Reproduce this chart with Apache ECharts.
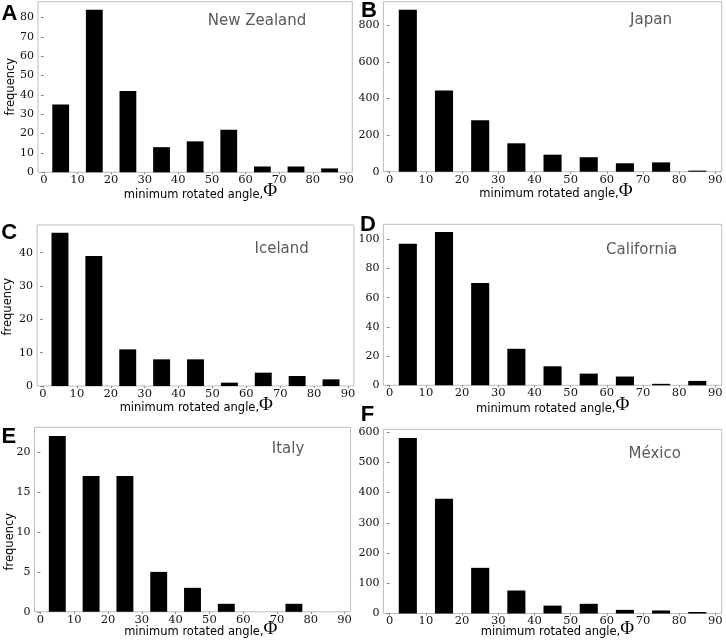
<!DOCTYPE html>
<html>
<head>
<meta charset="utf-8">
<script src="https://cdn.jsdelivr.net/npm/echarts@6/dist/echarts.min.js"></script>
<style>
html,body{margin:0;padding:0;background:#fff;}
#chart{width:726px;height:640px;}
</style>
</head>
<body>
<div id="chart"></div>
<script>
// ---- data ----
const binCenters = [5, 15, 25, 35, 45, 55, 65, 75, 85];
const xTicks = [0, 10, 20, 30, 40, 50, 60, 70, 80, 90];

const regions = ["New Zealand", "Japan", "Iceland", "California", "Italy", "México"];
const panelLetters = ["A", "B", "C", "D", "E", "F"];

const newZealand = [35, 84, 42, 13, 16, 22, 3, 3, 2];
const japan      = [884, 443, 281, 155, 93, 79, 46, 51, 6];
const iceland    = [46, 39, 11, 8, 8, 1, 4, 3, 2];
const california = [97, 105, 70, 25, 13, 8, 6, 1, 3];
const italy      = [22, 17, 17, 5, 3, 1, 0, 1, 0];
const mexico     = [580, 379, 151, 76, 26, 32, 12, 10, 5];

const yTicksA = [0, 10, 20, 30, 40, 50, 60, 70, 80];
const yTicksB = [0, 200, 400, 600, 800];
const yTicksC = [0, 10, 20, 30, 40];
const yTicksD = [0, 20, 40, 60, 80, 100];
const yTicksE = [0, 5, 10, 15, 20];
const yTicksF = [0, 100, 200, 300, 400, 500, 600];

const xLabel = "minimum rotated angle,";
const yLabel = "frequency";

// ---- layout (pixels) ----
const panels = [
  {vals: newZealand, ticks: yTicksA, grid: [38, 1.7, 314.3, 170.6], title: [257, 21], letter: [9.5, 13.7], xname: [200.5, 191.5], yname: [11, 86.7]},
  {vals: japan,      ticks: yTicksB, grid: [383.4, 1.7, 338.3, 170], title: [651, 20], letter: [369, 10.5], xname: [556, 191], yname: null},
  {vals: iceland,    ticks: yTicksC, grid: [37.1, 225, 316.8, 161], title: [281.7, 249.3], letter: [9.2, 233], xname: [196.3, 405], yname: [8.3, 306.7]},
  {vals: california, ticks: yTicksD, grid: [383.4, 224.3, 338.3, 161], title: [641.7, 250], letter: [368, 225], xname: [552.7, 405.5], yname: null},
  {vals: italy,      ticks: yTicksE, grid: [34.5, 427.3, 316, 184.5], title: [288, 449], letter: [8.8, 436.7], xname: [200.8, 629], yname: [10.5, 541.7]},
  {vals: mexico,     ticks: yTicksF, grid: [383.4, 429.3, 338.3, 184.2], title: [654.7, 454], letter: [367.5, 415], xname: [557.5, 629], yname: null}
];

const halfBar = 2.5;
const frameColor = "#bdbdbd";

const grids = [], xAxes = [], yAxes = [], series = [], graphics = [];

panels.forEach((p, i) => {
  grids.push({
    left: p.grid[0], top: p.grid[1], width: p.grid[2], height: p.grid[3],
    show: true, borderColor: frameColor, borderWidth: 1, backgroundColor: "#fff",
    containLabel: false, outerBoundsMode: "none"
  });
  xAxes.push({
    type: "value", gridIndex: i, min: -1.75, max: 91.75,
    axisLine: {show: false},
    splitLine: {show: false},
    axisTick: {show: true, length: 2, lineStyle: {color: "#888"}, customValues: xTicks},
    axisLabel: {margin: 2, customValues: xTicks, fontFamily: "DejaVu Serif", fontSize: 11.5, color: "#111"}
  });
  const ymax = Math.max(...p.vals) * 1.05;
  yAxes.push({
    type: "value", gridIndex: i, min: 0, max: ymax,
    axisLine: {show: false},
    splitLine: {show: false},
    axisTick: {show: true, length: 3, lineStyle: {color: "#888"}, customValues: p.ticks},
    axisLabel: {margin: 4, customValues: p.ticks, fontFamily: "DejaVu Serif", fontSize: 11, color: "#111"}
  });
  series.push({
    type: "custom", xAxisIndex: i, yAxisIndex: i,
    data: binCenters.map((c, k) => [c, p.vals[k]]),
    renderItem: function (params, api) {
      const x = api.value(0), y = api.value(1);
      const p0 = api.coord([x - halfBar, y]);
      const p1 = api.coord([x + halfBar, 0]);
      return {
        type: "rect",
        shape: {x: p0[0], y: p0[1], width: p1[0] - p0[0], height: p1[1] - p0[1]},
        style: {fill: "#000"}
      };
    },
    silent: true
  });
  graphics.push({
    type: "text", x: p.title[0], y: p.title[1],
    style: {text: regions[i], fill: "#5a5a5a", font: "15px 'DejaVu Sans'", textAlign: "center", textVerticalAlign: "middle"}
  });
  graphics.push({
    type: "text", x: p.letter[0], y: p.letter[1],
    style: {text: panelLetters[i], fill: "#000", font: "bold 22px 'Liberation Sans'", textAlign: "center", textVerticalAlign: "middle"}
  });
  graphics.push({
    type: "text", x: p.xname[0], y: p.xname[1],
    style: {
      text: "{a|" + xLabel + "}{b|Φ}",
      textAlign: "center", textVerticalAlign: "middle",
      rich: {
        a: {fontFamily: "DejaVu Sans", fontSize: 11.5, fill: "#000", verticalAlign: "bottom"},
        b: {fontFamily: "Liberation Serif", fontSize: 19, fill: "#000", verticalAlign: "bottom"}
      }
    }
  });
  if (p.yname) {
    graphics.push({
      type: "text", x: p.yname[0], y: p.yname[1], rotation: Math.PI / 2,
      style: {text: yLabel, fill: "#000", font: "11.5px 'DejaVu Sans'", textAlign: "center", textVerticalAlign: "middle"}
    });
  }
});

const chart = echarts.init(document.getElementById("chart"), null, {renderer: "canvas"});
chart.setOption({
  animation: false,
  backgroundColor: "#fff",
  grid: grids,
  xAxis: xAxes,
  yAxis: yAxes,
  series: series,
  graphic: graphics
});
</script>
</body>
</html>
